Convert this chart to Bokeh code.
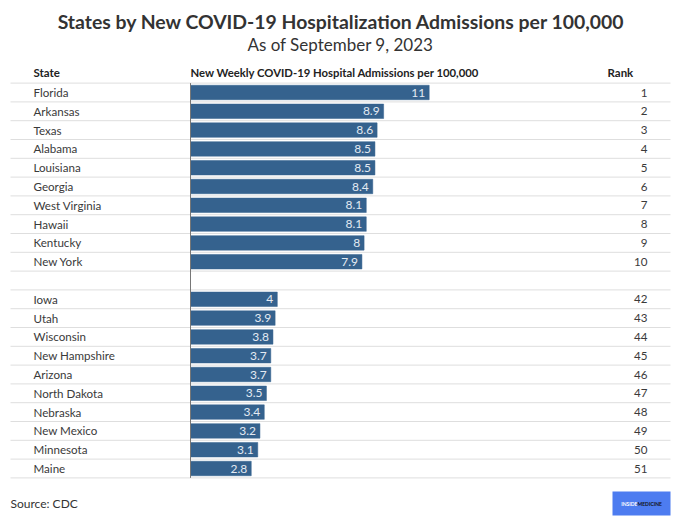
from bokeh.plotting import figure
from bokeh.models import Range1d, Label, BoxAnnotation, ColumnDataSource
from bokeh.embed import file_html
from bokeh.resources import INLINE
from bokeh.core.properties import value

# ---- data ----
top_states = ["Florida", "Arkansas", "Texas", "Alabama", "Louisiana", "Georgia",
              "West Virginia", "Hawaii", "Kentucky", "New York"]
top_values = [11, 8.9, 8.6, 8.5, 8.5, 8.4, 8.1, 8.1, 8, 7.9]
top_ranks = [1, 2, 3, 4, 5, 6, 7, 8, 9, 10]

bottom_states = ["Iowa", "Utah", "Wisconsin", "New Hampshire", "Arizona",
                 "North Dakota", "Nebraska", "New Mexico", "Minnesota", "Maine"]
bottom_values = [4, 3.9, 3.8, 3.7, 3.7, 3.5, 3.4, 3.2, 3.1, 2.8]
bottom_ranks = [42, 43, 44, 45, 46, 47, 48, 49, 50, 51]

title = "States by New COVID-19 Hospitalization Admissions per 100,000"
subtitle = "As of September 9, 2023"
col_headers = ["State", "New Weekly COVID-19 Hospital Admissions per 100,000", "Rank"]
source_text = "Source: CDC"

# ---- layout constants ----
W, H = 680, 526
FONT = "Source Sans Pro, Lato, sans-serif"
X0 = 190          # pixel position of value 0 inside figure
S = 21.7          # pixels per unit
ROW0 = 92         # pixel (from top) of first row center
RH = 18.8         # row height in px

def dx(px):
    return (px - X0) / S

def sy(py):
    return H - py

states = top_states + bottom_states
vals = top_values + bottom_values
ranks = [str(r) for r in top_ranks + bottom_ranks]
rows = list(range(len(top_states))) + [len(top_states) + 1 + i for i in range(len(bottom_states))]
nrows = len(top_states) + 1 + len(bottom_states)

src = ColumnDataSource(dict(
    y=rows, v=vals, state=states, rank=ranks,
    lab=[("%g" % v) for v in vals],
    sx=[dx(33)] * len(rows), rx=[dx(647)] * len(rows),
))

p = figure(width=W, height=H, output_backend="svg", toolbar_location=None,
           x_range=Range1d(dx(0), dx(W)),
           y_range=Range1d((H - ROW0) / RH, -ROW0 / RH),
           min_border=0)
p.axis.visible = False
p.grid.visible = False
p.outline_line_color = None
p.background_fill_color = "white"
p.border_fill_color = "white"

# row separators
seps = [i - 0.5 for i in range(nrows + 1)]
p.segment(x0=[dx(10)] * len(seps), x1=[dx(670)] * len(seps), y0=seps, y1=seps,
          line_color="#dedede", line_width=1)

# bars
p.hbar(y="y", left=0, right="v", height=0.77, source=src,
       fill_color="#35628E", line_color="#35628E", line_width=0.5)

# vertical baseline
p.segment(x0=[0], x1=[0], y0=[-0.5], y1=[nrows - 0.5], line_color="#777777", line_width=1)

# value labels
p.text(x="v", y="y", text="lab", source=src, x_offset=-4, text_align="right",
       text_baseline="middle", text_color="#E3EAF3", text_font_size="12px",
       text_font=value(FONT))

# state names
p.text(x="sx", y="y", text="state", source=src, text_align="left",
       text_baseline="middle", text_color="#3a3a3a", text_font_size="11.6px",
       text_font=value(FONT))

# ranks
p.text(x="rx", y="y", text="rank", source=src, text_align="right",
       text_baseline="middle", text_color="#3a3a3a", text_font_size="11.6px",
       text_font=value(FONT))

def lab(txt, x, y, size, bold=False, align="left", color="#222222"):
    p.add_layout(Label(x=x, y=sy(y), x_units="screen", y_units="screen", text=txt,
                       text_font=FONT, text_font_size=size,
                       text_font_style="bold" if bold else "normal",
                       text_align=align, text_baseline="middle", text_color=color))

lab(title, 341, 21, "19.4px", bold=True, align="center", color="#333333")
lab(subtitle, 340, 44, "17px", align="center", color="#333333")
lab(col_headers[0], 33, 72, "11.5px", bold=True, color="#222222")
lab(col_headers[1], 190, 72, "11.3px", bold=True, color="#222222")
lab(col_headers[2], 607, 72, "11.5px", bold=True, color="#222222")
lab(source_text, 10, 503, "12px", color="#333333")

# logo
p.add_layout(BoxAnnotation(left=612, right=670, bottom=sy(515), top=sy(491),
                           left_units="screen", right_units="screen",
                           bottom_units="screen", top_units="screen",
                           fill_color="#4D7CF0", fill_alpha=1, line_color=None))
lab("INSIDE", 637, 503, "5px", bold=True, align="right", color="white")
lab("MEDICINE", 637, 503, "5px", bold=True, align="left", color="#111111")

open("out.html", "w").write(file_html(p, INLINE))
